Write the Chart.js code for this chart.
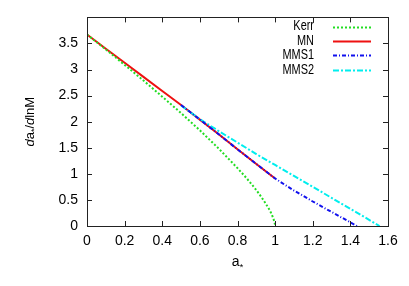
<!DOCTYPE html>
<html>
<head>
<meta charset="utf-8">
<script src="https://cdn.jsdelivr.net/npm/chart.js@4.4.0/dist/chart.umd.min.js"></script>
<style>
  html, body { margin: 0; padding: 0; background: #fff; }
  #wrap { width: 409px; height: 286px; }
</style>
</head>
<body>
<div id="wrap"><canvas id="c" width="409" height="286"></canvas></div>
<script>
// ---- data ----
const kerrA   = [0, 0.1, 0.2, 0.3, 0.4, 0.5, 0.6, 0.7, 0.8, 0.85, 0.9, 0.93, 0.95, 0.97, 0.98, 0.99, 0.995, 0.999, 1.0];
const kerrVal = [3.67, 3.385, 3.09, 2.79, 2.48, 2.165, 1.835, 1.485, 1.11, 0.91, 0.69, 0.54, 0.43, 0.31, 0.24, 0.15, 0.095, 0.035, 0];

const mnA   = [0, 0.1, 0.2, 0.3, 0.4, 0.5, 0.6, 0.7, 0.8, 0.9, 1.0];
const mnVal = [3.67, 3.40, 3.13, 2.86, 2.59, 2.32, 2.04, 1.76, 1.47, 1.19, 0.91];

const mms1A   = [0.5, 0.6, 0.7, 0.8, 0.9, 1.0, 1.1, 1.2, 1.3, 1.435];
const mms1Val = [2.32, 2.04, 1.76, 1.47, 1.19, 0.91, 0.68, 0.47, 0.27, 0];

const mms2A   = [0.5, 0.6, 0.7, 0.8, 0.9, 1.0, 1.1, 1.2, 1.3, 1.4, 1.555];
const mms2Val = [2.31, 2.05, 1.82, 1.60, 1.38, 1.17, 0.96, 0.75, 0.54, 0.33, 0];

const seriesNames = ['Kerr', 'MN', 'MMS1', 'MMS2'];
const xTickLabels = ['0', '0.2', '0.4', '0.6', '0.8', '1', '1.2', '1.4', '1.6'];
const yTickLabels = ['0', '0.5', '1', '1.5', '2', '2.5', '3', '3.5', ''];

const toPts = (xs, ys) => xs.map((x, i) => ({ x: x, y: ys[i] }));

const FONT = "'Liberation Sans', Arial, Helvetica, sans-serif";

const styles = [
  { color: '#22dd22', dash: [2, 2] },
  { color: '#ee1111', dash: [] },
  { color: '#1111ee', dash: [4, 2, 1, 2] },
  { color: '#00eeee', dash: [6, 2, 2, 2] }
];

const decorPlugin = {
  id: 'decor',
  afterDatasetsDraw(chart) {
    const ctx = chart.ctx;
    const a = chart.chartArea;
    const xs = chart.scales.x, ys = chart.scales.y;
    ctx.save();
    // border
    ctx.strokeStyle = '#222';
    ctx.lineWidth = 1;
    ctx.setLineDash([]);
    ctx.strokeRect(Math.round(a.left) + 0.5, Math.round(a.top) + 0.5,
                   Math.round(a.right - a.left), Math.round(a.bottom - a.top));
    // inward ticks, mirrored
    const tl = 5;
    ctx.beginPath();
    xs.ticks.forEach(t => {
      const px = Math.round(xs.getPixelForValue(t.value)) + 0.5;
      ctx.moveTo(px, a.bottom); ctx.lineTo(px, a.bottom - tl);
      ctx.moveTo(px, a.top); ctx.lineTo(px, a.top + tl);
    });
    ys.ticks.forEach(t => {
      const py = Math.round(ys.getPixelForValue(t.value)) + 0.5;
      ctx.moveTo(a.left, py); ctx.lineTo(a.left + tl, py);
      ctx.moveTo(a.right, py); ctx.lineTo(a.right - tl, py);
    });
    ctx.stroke();

    // legend (gnuplot style: text right-aligned, sample to the right)
    ctx.textAlign = 'right';
    ctx.textBaseline = 'middle';
    seriesNames.forEach((name, i) => {
      const y = 26.5 + i * 14.4;
      ctx.save();
      ctx.translate(314, y);
      ctx.scale(0.78, 1);
      ctx.font = '14px ' + FONT;
      ctx.fillStyle = '#000';
      ctx.fillText(name, 0, 0);
      ctx.restore();
      ctx.strokeStyle = styles[i].color;
      ctx.lineWidth = 2;
      ctx.setLineDash(styles[i].dash);
      ctx.beginPath();
      ctx.moveTo(333, Math.round(y) + 0.5);
      ctx.lineTo(371, Math.round(y) + 0.5);
      ctx.stroke();
    });
    ctx.setLineDash([]);

    // x title: a*
    ctx.fillStyle = '#000';
    ctx.textAlign = 'left';
    ctx.textBaseline = 'alphabetic';
    ctx.font = '14px ' + FONT;
    const xa = 'a';
    const wa = ctx.measureText(xa).width;
    ctx.font = '9px ' + FONT;
    const ws = ctx.measureText('*').width;
    const xc = (a.left + a.right) / 2;
    const x0 = xc - (wa + ws) / 2;
    ctx.font = '14px ' + FONT;
    ctx.fillText(xa, x0, 266);
    ctx.font = '9px ' + FONT;
    ctx.fillText('*', x0 + wa, 270);

    // y title: da*/dlnM (rotated)
    ctx.translate(34, (a.top + a.bottom) / 2);
    ctx.rotate(-Math.PI / 2);
    const parts = [
      { t: 'd', f: 'italic 13px ' + FONT, dy: 0 },
      { t: 'a', f: '13px ' + FONT, dy: 0 },
      { t: '*', f: '9px ' + FONT, dy: 3 },
      { t: '/', f: '13px ' + FONT, dy: 0 },
      { t: 'd', f: 'italic 13px ' + FONT, dy: 0 },
      { t: 'lnM', f: '13px ' + FONT, dy: 0 }
    ];
    let tw = 0;
    parts.forEach(p => { ctx.font = p.f; p.w = ctx.measureText(p.t).width; tw += p.w; });
    let cx = -tw / 2;
    parts.forEach(p => { ctx.font = p.f; ctx.fillText(p.t, cx, p.dy); cx += p.w; });
    ctx.restore();
  }
};

const mk = (label, xs, ys, st) => ({
  label: label,
  data: toPts(xs, ys),
  borderColor: st.color,
  borderWidth: 2,
  borderDash: st.dash,
  pointRadius: 0,
  tension: 0,
  fill: false
});

new Chart(document.getElementById('c'), {
  type: 'line',
  data: {
    datasets: [
      mk(seriesNames[0], kerrA, kerrVal, styles[0]),
      mk(seriesNames[2], mms1A, mms1Val, styles[2]),
      mk(seriesNames[3], mms2A, mms2Val, styles[3]),
      mk(seriesNames[1], mnA, mnVal, styles[1])
    ]
  },
  options: {
    responsive: false,
    animation: false,
    layout: { padding: { left: 0, right: 21, top: 17, bottom: 0 } },
    plugins: { legend: { display: false }, tooltip: { enabled: false } },
    scales: {
      x: {
        type: 'linear', min: 0, max: 1.6,
        grid: { display: false, drawTicks: false },
        border: { display: false },
        ticks: {
          stepSize: 0.2, padding: 7, color: '#000',
          font: { family: FONT, size: 14 },
          maxRotation: 0,
          callback: (v, i) => xTickLabels[i]
        },
        afterFit: s => { s.height = 60; }
      },
      y: {
        type: 'linear', min: 0, max: 4,
        grid: { display: false, drawTicks: false },
        border: { display: false },
        ticks: {
          stepSize: 0.5, padding: 9, color: '#000',
          font: { family: FONT, size: 14 },
          callback: (v, i) => yTickLabels[i]
        },
        afterFit: s => { s.width = 87; }
      }
    }
  },
  plugins: [decorPlugin]
});
</script>
</body>
</html>
